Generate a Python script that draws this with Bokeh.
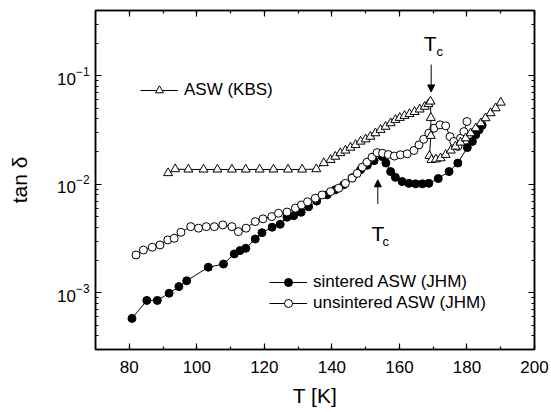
from bokeh.plotting import figure
from bokeh.models import (Range1d, LinearAxis, LogAxis, SingleIntervalTicker, LogTicker,
                          Legend, LegendItem, Label, Arrow, NormalHead, CustomJSTickFormatter)
from bokeh.embed import file_html
from bokeh.resources import INLINE

# sintered ASW (JHM) - filled circles
T_sint = [80.8, 85.2, 88.3, 91.8, 94.7, 97.0, 103.4, 107.9, 111.1, 112.8, 114.5, 117.3, 119.3,
          122.3, 124.7, 126.7, 128.7, 130.9, 133.1, 135.5, 138.6, 141.0, 143.5, 146.0, 148.5,
          150.5, 152.5, 154.9, 156.0, 157.4, 158.8, 160.8, 162.8, 164.8, 166.8, 168.7, 171.5,
          174.7, 177.3, 180.1, 181.6, 182.6, 183.6, 184.5]
tan_sint = [5.8e-4, 8.5e-4, 8.5e-4, 9.9e-4, 1.14e-3, 1.29e-3, 1.72e-3, 1.84e-3, 2.28e-3, 2.45e-3,
            2.57e-3, 3.13e-3, 3.58e-3, 4.02e-3, 4.28e-3, 4.97e-3, 5.14e-3, 5.52e-3, 6.2e-3,
            7.0e-3, 8.0e-3, 8.9e-3, 9.9e-3, 1.15e-2, 1.36e-2, 1.5e-2, 1.65e-2, 1.8e-2, 1.57e-2,
            1.31e-2, 1.16e-2, 1.06e-2, 1.02e-2, 1.01e-2, 1.01e-2, 1.02e-2, 1.13e-2, 1.31e-2,
            1.57e-2, 2.18e-2, 2.48e-2, 2.86e-2, 3.18e-2, 3.5e-2]

# unsintered ASW (JHM) - open circles
T_unsint = [82.0, 84.2, 86.8, 89.1, 91.4, 93.3, 95.3, 98.2, 100.5, 102.8, 105.2, 107.7, 110.4,
            112.3, 114.6, 117.3, 119.6, 122.2, 124.2, 126.7, 129.2, 131.0, 132.8, 135.1, 137.1,
            139.6, 142.0, 144.0, 146.0, 147.5, 149.0, 150.4, 151.9, 153.4, 155.0, 156.7, 158.5,
            160.3, 162.3, 164.3, 165.8, 167.2, 168.7, 170.2, 172.0, 173.7, 175.0, 176.1, 177.3,
            178.1, 179.1, 180.0]
tan_unsint = [2.23e-3, 2.48e-3, 2.63e-3, 2.76e-3, 3.07e-3, 3.18e-3, 3.61e-3, 4.07e-3, 3.94e-3,
              4.07e-3, 4.07e-3, 4.22e-3, 4.07e-3, 3.66e-3, 3.94e-3, 4.53e-3, 4.80e-3, 5.04e-3,
              5.41e-3, 5.55e-3, 6.03e-3, 6.45e-3, 6.9e-3, 7.45e-3, 7.98e-3, 8.57e-3, 9.2e-3,
              1.02e-2, 1.14e-2, 1.26e-2, 1.44e-2, 1.6e-2, 1.78e-2, 1.96e-2, 1.93e-2, 1.88e-2,
              1.82e-2, 1.87e-2, 1.91e-2, 2.05e-2, 2.31e-2, 2.6e-2, 2.96e-2, 3.29e-2, 3.53e-2,
              3.46e-2, 2.75e-2, 2.48e-2, 2.23e-2, 2.66e-2, 3.06e-2, 3.79e-2]

# ASW (KBS) - open triangles
T_kbs = [91.5, 93.6, 97.5, 102.0, 106.1, 110.4, 114.5, 118.6, 122.7, 127.0, 131.2, 135.4, 137.6,
         139.6, 141.0, 142.5, 144.0, 145.5, 147.0, 148.5, 150.0, 151.4, 152.9, 154.4, 155.9,
         157.4, 158.8, 160.1, 161.5, 163.0, 164.5, 166.0, 167.5, 168.6, 169.2, 169.3, 169.3,
         168.9, 169.5, 170.8, 172.2, 173.7, 175.2, 176.6, 178.1, 179.6, 181.1, 182.6, 184.1,
         185.5, 187.0, 188.5, 190.0]
tan_kbs = [0.0127, 0.0138, 0.0137, 0.0137, 0.0137, 0.0137, 0.0137, 0.0137, 0.0137, 0.0137,
           0.0137, 0.0138, 0.0157, 0.0168, 0.0180, 0.0194, 0.0205, 0.0218, 0.0231, 0.0248,
           0.0260, 0.0275, 0.0296, 0.0318, 0.0340, 0.0366, 0.0393, 0.0410, 0.0428, 0.0445,
           0.0465, 0.0490, 0.0520, 0.0550, 0.0580, 0.0410, 0.0280, 0.0183, 0.0168, 0.0170,
           0.0174, 0.0187, 0.0205, 0.0223, 0.0243, 0.0266, 0.0296, 0.0329, 0.0366, 0.0407,
           0.0453, 0.0503, 0.0567]

FONT = "Liberation Sans"

p = figure(frame_width=439, frame_height=339, x_axis_type="linear", y_axis_type="log",
           x_range=Range1d(70, 200), y_range=Range1d(3.0e-4, 0.4),
           output_backend="svg", toolbar_location=None,
           min_border_left=95, min_border_right=16, min_border_top=10, min_border_bottom=50)
p.grid.visible = False
p.outline_line_color = "black"
p.outline_line_width = 1.5
p.background_fill_color = "white"
p.border_fill_color = "white"

xt = SingleIntervalTicker(interval=20, num_minor_ticks=2)
for ax in p.xaxis:
    ax.ticker = xt
    ax.axis_label = "T [K]"
for ax in p.yaxis:
    ax.ticker = LogTicker(num_minor_ticks=10)
    ax.axis_label = "tan δ"

def style(ax):
    ax.axis_line_color = "black"
    ax.axis_line_width = 1.5
    ax.major_tick_in = 6
    ax.major_tick_out = 0
    ax.minor_tick_in = 3
    ax.minor_tick_out = 0
    ax.major_tick_line_width = 1.2
    ax.minor_tick_line_width = 1.2
    ax.major_label_text_font = FONT
    ax.major_label_text_font_size = "17px"
    ax.major_label_text_color = "black"
    ax.axis_label_text_font = FONT
    ax.axis_label_text_font_size = "21px"
    ax.axis_label_text_font_style = "normal"
    ax.axis_label_text_color = "black"

for ax in p.xaxis + p.yaxis:
    style(ax)
p.xaxis.major_label_standoff = 11
p.xaxis.axis_label_standoff = 8
p.yaxis.major_label_standoff = 6
p.yaxis.axis_label_standoff = 23

blank = CustomJSTickFormatter(code="return '';")
top = LinearAxis(ticker=xt, formatter=blank)
right = LogAxis(ticker=LogTicker(num_minor_ticks=10), formatter=blank)
for ax in (top, right):
    style(ax)
    ax.major_label_standoff = 0
    ax.major_label_text_font_size = "0px"
p.add_layout(top, "above")
p.add_layout(right, "right")

# sintered
l1 = p.line(T_sint, tan_sint, line_color="black", line_width=1)
s1 = p.scatter(T_sint, tan_sint, marker="circle", size=8, fill_color="black", line_color="black")
# unsintered
l2 = p.line(T_unsint, tan_unsint, line_color="black", line_width=1)
s2 = p.scatter(T_unsint, tan_unsint, marker="circle", size=8, fill_color="white", line_color="black", line_width=1)
# KBS
l3 = p.line(T_kbs, tan_kbs, line_color="black", line_width=1)
s3 = p.scatter(T_kbs, tan_kbs, marker="triangle", size=9, fill_color="white", line_color="black", line_width=1)

leg1 = Legend(items=[LegendItem(label="ASW (KBS)", renderers=[l3, s3])],
              location=(45, 249), orientation="vertical")
leg2 = Legend(items=[LegendItem(label="sintered ASW (JHM)", renderers=[l1, s1]),
                     LegendItem(label="unsintered ASW (JHM)", renderers=[l2, s2])],
              location=(174, 36), orientation="vertical")
for lg in (leg1, leg2):
    lg.border_line_color = None
    lg.background_fill_alpha = 0
    lg.padding = 0
    lg.margin = 0
    lg.spacing = 1
    lg.glyph_width = 38
    lg.glyph_height = 20
    lg.label_height = 20
    lg.label_standoff = 6
    lg.label_text_font = FONT
    lg.label_text_font_size = "17px"
    lg.label_text_color = "black"
    p.add_layout(lg)

# Tc annotations
head = dict(size=7, fill_color="black", line_color="black")
p.add_layout(Arrow(x_start=169.4, y_start=0.127, x_end=169.4, y_end=0.071,
                   end=NormalHead(**head), line_color="black", line_width=1))
p.add_layout(Arrow(x_start=153.6, y_start=0.0066, x_end=153.6, y_end=0.0110,
                   end=NormalHead(**head), line_color="black", line_width=1))
for (tx, ty, cx, cy) in [(167.2, 0.197, 171.0, 0.167), (151.7, 0.00349, 155.0, 0.00300)]:
    p.add_layout(Label(x=tx, y=ty, text="T", text_font=FONT, text_font_size="21px",
                       text_color="black", text_baseline="alphabetic"))
    p.add_layout(Label(x=cx, y=cy, text="c", text_font=FONT, text_font_size="13px",
                       text_color="black", text_baseline="alphabetic"))

open("out.html", "w").write(file_html(p, INLINE))
